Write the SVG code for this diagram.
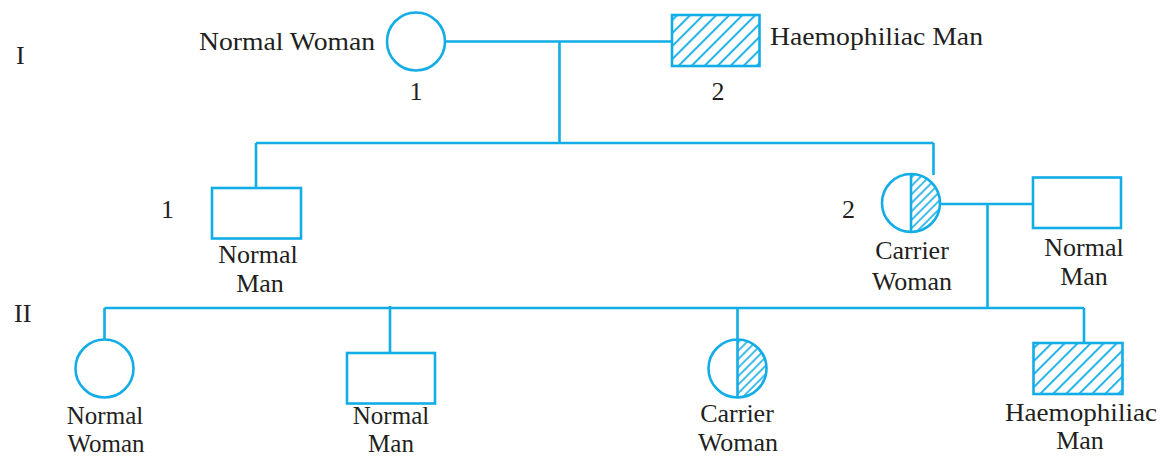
<svg xmlns="http://www.w3.org/2000/svg" width="1162" height="458" viewBox="0 0 1162 458">
<defs>
<pattern id="hatchWide" patternUnits="userSpaceOnUse" width="9.2" height="20" patternTransform="rotate(45)">
<line x1="2" y1="-2" x2="2" y2="22" stroke="#12ADE6" stroke-width="1.9"/>
</pattern>
<pattern id="hatchFine" patternUnits="userSpaceOnUse" width="6" height="20" patternTransform="rotate(45)">
<line x1="2" y1="-2" x2="2" y2="22" stroke="#12ADE6" stroke-width="1.6"/>
</pattern>
</defs>
<style>
.s{fill:none;stroke:#12ADE6;stroke-width:2.6}
.w{fill:#fff;stroke:#12ADE6;stroke-width:2.6}
.hw{fill:url(#hatchWide);stroke:#12ADE6;stroke-width:2.6}
.hf{fill:url(#hatchFine);stroke:none}
.c{stroke:#12ADE6;stroke-width:2.6;fill:none}
text{font-family:"Liberation Serif","Times New Roman",serif;font-size:26px;fill:#231f20}
.m{text-anchor:middle}
.e{text-anchor:end}
.b{font-size:25px}
</style>
<rect width="1162" height="458" fill="#fff"/>
<g id="connectors">
<path class="c" d="M445 41.5H672M559.5 41.5V143M256 143H933.5M256 143V188M933.5 143V175M940 204H1033M987.5 204V308M104.5 308H1084M104.5 308V340M390 306V353M737.5 308V340M1084 308V343"/>
</g>
<text x="16" y="64">I</text>
<text x="14" y="322">II</text>
<g id="I-1">
<circle class="w" cx="416" cy="41.5" r="29"/>
<text x="199" y="50" textLength="176" lengthAdjust="spacingAndGlyphs">Normal Woman</text>
<text class="m" x="416" y="100">1</text>
</g>
<g id="I-2">
<rect class="hw" x="672" y="15" width="87.5" height="51"/>
<text x="770" y="45" textLength="213" lengthAdjust="spacingAndGlyphs">Haemophiliac Man</text>
<text class="m" x="718" y="100">2</text>
</g>
<g id="II-1">
<rect class="w" x="212" y="188" width="89" height="50.5"/>
<text x="161" y="218">1</text>
<text class="m" x="258" y="263">Normal</text>
<text class="m" x="260" y="292">Man</text>
</g>
<g id="II-2">
<path class="hf" d="M911 174A29 29 0 0 1 911 232Z"/>
<circle class="s" cx="911" cy="203" r="29"/>
<line class="s" x1="911" y1="174" x2="911" y2="232"/>
<text x="842" y="218">2</text>
<text class="m" x="912" y="259">Carrier</text>
<text class="m" x="912" y="290">Woman</text>
</g>
<g id="II-spouse">
<rect class="w" x="1033" y="177.5" width="88" height="50.5"/>
<text class="m" x="1084" y="256">Normal</text>
<text class="m" x="1084" y="285">Man</text>
</g>
<g id="III-1">
<circle class="w" cx="104.5" cy="368.5" r="29"/>
<text class="m b" x="105" y="424">Normal</text>
<text class="m b" x="106" y="452">Woman</text>
</g>
<g id="III-2">
<rect class="w" x="347" y="353" width="88" height="50.5"/>
<text class="m b" x="391" y="424">Normal</text>
<text class="m b" x="391" y="452">Man</text>
</g>
<g id="III-3">
<path class="hf" d="M737.5 339.5A29 29 0 0 1 737.5 397.5Z"/>
<circle class="s" cx="737.5" cy="368.5" r="29"/>
<line class="s" x1="737.5" y1="339.5" x2="737.5" y2="397.5"/>
<text class="m" x="737" y="422">Carrier</text>
<text class="m" x="738" y="451">Woman</text>
</g>
<g id="III-4">
<rect class="hw" x="1033.5" y="343" width="89" height="51"/>
<text x="1005" y="421" textLength="152" lengthAdjust="spacingAndGlyphs">Haemophiliac</text>
<text class="m" x="1080" y="449">Man</text>
</g>
</svg>
